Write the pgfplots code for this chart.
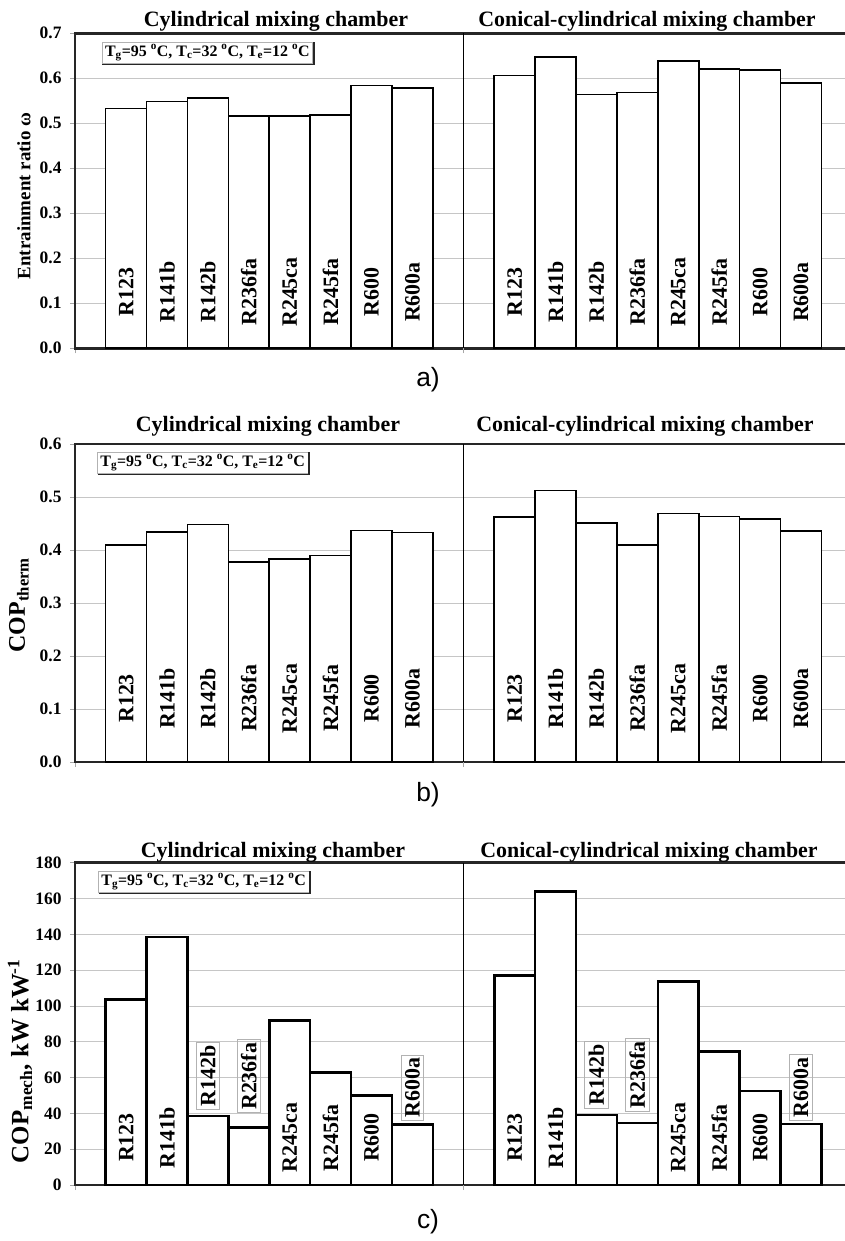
\documentclass[border=0pt]{standalone}
\usepackage{fontspec}
\setmainfont{Liberation Serif}
\newfontfamily\sansf{Liberation Sans}
\usepackage{pgfplots}
\usepackage{pgfplotstable}
\pgfplotsset{compat=1.18}
\newcommand{\fs}[1]{\fontsize{#1}{#1}\selectfont}

\pgfplotstableread{
x v
1.25 0.533
2.25 0.548
3.25 0.556
4.25 0.516
5.25 0.516
6.25 0.519
7.25 0.584
8.25 0.578
10.75 0.606
11.75 0.648
12.75 0.564
13.75 0.568
14.75 0.638
15.75 0.621
16.75 0.618
17.75 0.589
}\taba

\pgfplotstableread{
x v
1.25 0.409
2.25 0.434
3.25 0.448
4.25 0.377
5.25 0.383
6.25 0.390
7.25 0.437
8.25 0.433
10.75 0.462
11.75 0.512
12.75 0.451
13.75 0.410
14.75 0.469
15.75 0.463
16.75 0.458
17.75 0.436
}\tabb

\pgfplotstableread{
x v
1.25 103.7
2.25 138.6
3.25 38.6
4.25 32.0
5.25 92.0
6.25 63.0
7.25 50.0
8.25 33.8
10.75 117.0
11.75 164.0
12.75 39.0
13.75 34.6
14.75 113.7
15.75 74.7
16.75 52.4
17.75 34.0
}\tabc

\pgfplotstableread{
x lab
1.25 R123
2.25 R141b
3.25 R142b
4.25 R236fa
5.25 R245ca
6.25 R245fa
7.25 R600
8.25 R600a
10.75 R123
11.75 R141b
12.75 R142b
13.75 R236fa
14.75 R245ca
15.75 R245fa
16.75 R600
17.75 R600a
}\labs

\pgfplotstableread{
x lab
1.25 R123
2.25 R141b
5.25 R245ca
6.25 R245fa
7.25 R600
10.75 R123
11.75 R141b
14.75 R245ca
15.75 R245fa
16.75 R600
}\labcin

\pgfplotstableread{
x y lab
3.25 61.1 R142b
4.25 60.7 R236fa
8.25 54.3 R600a
12.75 61.5 R142b
13.75 61.5 R236fa
17.75 54.5 R600a
}\labcbox

\pgfplotsset{
  panel/.style={
    scale only axis, width=773bp, xmin=0, xmax=18.9, ymin=0,
    anchor=north west,
    axis line style={line width=2.6bp, black!85},
    xtick={0}, xticklabels={},
    xtick pos=left, ytick pos=left,
    tick align=outside, major tick length=5bp,
    tick style={gray!70, line width=0.8bp},
    ymajorgrids, major grid style={gray!45, line width=0.9bp},
    extra x ticks={9.5}, extra x tick labels={},
    extra x tick style={grid=major, major grid style={black, line width=1.4bp}},
    /pgf/number format/assume math mode=true,
    yticklabel style={font=\fs{17.5}\bfseries, xshift=-5bp},
  },
  barplot/.style={ybar, bar width=1, bar shift=0, fill=white, draw=black, line width=1.6bp},
  labplot/.style={draw=none, nodes near coords, point meta=explicit symbolic,
    every node near coord/.style={rotate=90, anchor=center, font=\fs{22}\bfseries, inner sep=0pt}},
}

\newcommand{\legbox}[2]{%
  \node[draw=gray!60, line width=0.8bp, fill=white, inner xsep=3bp, inner ysep=2.5bp,
        anchor=north west, font=\fs{16}\bfseries] (#2) at #1
   {T\textsubscript{g}=95 \textsuperscript{o}C, T\textsubscript{c}=32 \textsuperscript{o}C, T\textsubscript{e}=12 \textsuperscript{o}C};
  \draw[line width=1.8bp, black!85] ([shift={(0.5bp,-0.5bp)}]#2.south west) -- ([shift={(0.5bp,-0.5bp)}]#2.south east) -- ([shift={(0.5bp,0bp)}]#2.north east);
}

\begin{document}
\begin{tikzpicture}
% ---------- panel a ----------
\begin{axis}[panel, at={(75bp,-33.3bp)}, height=315bp, ymax=0.7,
  ytick={0,0.1,0.2,0.3,0.4,0.5,0.6,0.7},
  yticklabel style={/pgf/number format/.cd, fixed, fixed zerofill, precision=1}]
\addplot[barplot] table[x=x, y=v] {\taba};
\addplot[labplot] table[x=x, y expr=0.125, meta=lab] {\labs};
\end{axis}
% ---------- panel b ----------
\begin{axis}[panel, at={(75bp,-444bp)}, height=318bp, ymax=0.6,
  ytick={0,0.1,0.2,0.3,0.4,0.5,0.6},
  yticklabel style={/pgf/number format/.cd, fixed, fixed zerofill, precision=1}]
\addplot[barplot] table[x=x, y=v] {\tabb};
\addplot[labplot] table[x=x, y expr=0.12, meta=lab] {\labs};
\end{axis}
% ---------- panel c ----------
\begin{axis}[panel, at={(75bp,-862.7bp)}, height=322.3bp, ymax=180,
  ytick={0,20,40,60,80,100,120,140,160,180}]
\addplot[barplot, line width=2.6bp] table[x=x, y=v] {\tabc};
\addplot[labplot] table[x=x, y expr=26.5, meta=lab] {\labcin};
\addplot[labplot, every node near coord/.append style={draw=gray!60, line width=0.8bp, inner xsep=3bp, inner ysep=4bp}]
  table[x=x, y=y, meta=lab] {\labcbox};
\end{axis}

% titles
\node[anchor=base, font=\fs{22}\bfseries] at (276bp,-26bp) {Cylindrical mixing chamber};
\node[anchor=base, font=\fs{22}\bfseries] at (647bp,-26bp) {Conical-cylindrical mixing chamber};
\node[anchor=base, font=\fs{22}\bfseries] at (268bp,-431.7bp) {Cylindrical mixing chamber};
\node[anchor=base, font=\fs{22}\bfseries] at (645bp,-431.7bp) {Conical-cylindrical mixing chamber};
\node[anchor=base, font=\fs{22}\bfseries] at (273bp,-857.3bp) {Cylindrical mixing chamber};
\node[anchor=base, font=\fs{22}\bfseries] at (649bp,-857.3bp) {Conical-cylindrical mixing chamber};

% legend boxes
\legbox{(101.7bp,-41.7bp)}{la}
\legbox{(97bp,-451.7bp)}{lb}
\legbox{(98bp,-870.7bp)}{lc}

% y labels
\node[rotate=90, font=\fs{19}\bfseries] at (24bp,-196bp) {Entrainment ratio ω};
\node[rotate=90, font=\fs{24}\bfseries] at (19bp,-605bp) {COP\textsubscript{therm}};
\node[rotate=90, font=\fs{25}\bfseries] at (20bp,-1061bp) {COP\textsubscript{mech}, kW kW\textsuperscript{-1}};

% panel letters
\node[font=\sansf\fs{26.5}] at (428bp,-380bp) {a)};
\node[font=\sansf\fs{26.5}] at (428bp,-795bp) {b)};
\node[font=\sansf\fs{26.5}] at (428bp,-1222bp) {c)};

\pgfresetboundingbox
\path (0,0) rectangle (845bp,-1241bp);
\end{tikzpicture}
\end{document}
